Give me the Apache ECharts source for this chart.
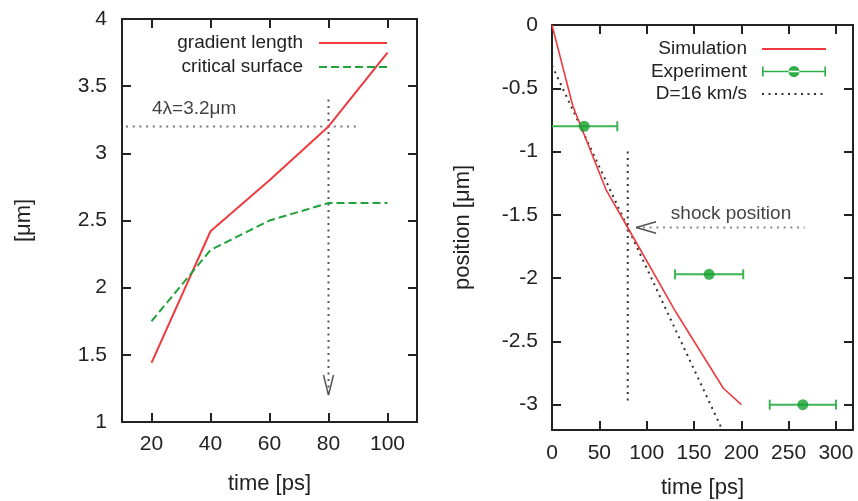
<!DOCTYPE html>
<html>
<head>
<meta charset="utf-8">
<script src="https://cdn.jsdelivr.net/npm/echarts@6/dist/echarts.min.js"></script>
<style>html,body{margin:0;padding:0;background:#fff}#c{width:858px;height:501px}</style>
</head>
<body>
<div id="c"></div>
<script>
// ---- Left panel data ----
const leftTime = [20, 40, 60, 80, 100];
const gradientLength = [1.44, 2.42, 2.8, 3.2, 3.75];
const criticalSurface = [1.75, 2.28, 2.5, 2.63, 2.63];
const leftXTicks = [20, 40, 60, 80, 100];
const leftYTicks = [1, 1.5, 2, 2.5, 3, 3.5, 4];
// annotation: 4λ threshold line and marker at 80 ps
const thresholdX = [0, 90];
const thresholdY = [3.2, 3.2];
const markerLeftX = [80, 80];
const markerLeftY = [3.4, 1.2];
const arrowLeftX = [78.3, 80, 81.7];
const arrowLeftY = [1.35, 1.2, 1.35];
const thresholdLabel = [20, 3.33];

// ---- Right panel data ----
const simTime = [0, 22, 57, 80, 131, 181, 200];
const simPos = [0, -0.64, -1.3, -1.6, -2.27, -2.87, -3.0];
const expTime = [34, 166, 265];
const expPos = [-0.8, -1.97, -3.0];
const expErr = [35, 36, 35];
const dTime = [0, 180];
const dPos = [-0.32, -3.2];
const rightXTicks = [0, 50, 100, 150, 200, 250, 300];
const rightYTicks = [-3, -2.5, -2, -1.5, -1, -0.5, 0];
const shockLineX = [89, 267];
const shockLineY = [-1.6, -1.6];
const shockArrowX = [110, 89, 110];
const shockArrowY = [-1.555, -1.6, -1.645];
const markerRightX = [80, 80];
const markerRightY = [-1.0, -3.0];
const shockLabel = [125, -1.49];

const zip = (a, b) => a.map((v, i) => [v, b[i]]);
const FONT = 'Liberation Sans, Arial, Helvetica, sans-serif';
const INK = '#222';
const RED = '#ef3b3f';
const GREEN = '#22a23a';

function axisBase(extra) {
  return Object.assign({
    axisLine: { show: true, onZero: false, lineStyle: { color: INK, width: 2 } },
    splitLine: { show: false },
    nameTextStyle: { fontFamily: FONT, fontSize: 22, color: INK },
  }, extra);
}
function ticks(values) {
  return { show: true, inside: true, length: 9, customValues: values, lineStyle: { color: INK, width: 2 } };
}
function labelStyle(margin, customValues) {
  return { show: true, fontFamily: FONT, fontSize: 21, color: INK, margin: margin, customValues: customValues };
}
const hiddenSymbol = { opacity: 0 };

const chart = echarts.init(document.getElementById('c'), null, { renderer: 'canvas' });

const option = {
  animation: false,
  backgroundColor: '#fff',
  grid: [
    { left: 122, top: 19, width: 295, height: 403, show: false, containLabel: false, outerBoundsMode: 'none' },
    { left: 552, top: 25, width: 301, height: 405, show: false, containLabel: false, outerBoundsMode: 'none' }
  ],
  xAxis: [
    axisBase({ gridIndex: 0, type: 'value', position: 'bottom', min: 10, max: 110,
      name: 'time [ps]', nameLocation: 'middle', nameGap: 51,
      axisTick: ticks(leftXTicks), axisLabel: labelStyle(12, leftXTicks) }),
    axisBase({ gridIndex: 0, type: 'value', position: 'top', min: 10, max: 110,
      axisTick: ticks(leftXTicks), axisLabel: { show: false } }),
    axisBase({ gridIndex: 1, type: 'value', position: 'bottom', min: 0, max: 318,
      name: 'time [ps]', nameLocation: 'middle', nameGap: 47,
      axisTick: ticks(rightXTicks), axisLabel: labelStyle(13, rightXTicks) }),
    axisBase({ gridIndex: 1, type: 'value', position: 'top', min: 0, max: 318,
      axisTick: ticks(rightXTicks), axisLabel: { show: false } })
  ],
  yAxis: [
    axisBase({ gridIndex: 0, type: 'value', position: 'left', min: 1, max: 4,
      name: '[μm]', nameLocation: 'middle', nameGap: 87,
      axisTick: ticks(leftYTicks), axisLabel: labelStyle(15, leftYTicks) }),
    axisBase({ gridIndex: 0, type: 'value', position: 'right', min: 1, max: 4,
      axisTick: ticks(leftYTicks), axisLabel: { show: false } }),
    axisBase({ gridIndex: 1, type: 'value', position: 'left', min: -3.2, max: 0,
      name: 'position [μm]', nameLocation: 'middle', nameGap: 78,
      axisTick: ticks(rightYTicks), axisLabel: labelStyle(14, rightYTicks) }),
    axisBase({ gridIndex: 1, type: 'value', position: 'right', min: -3.2, max: 0,
      axisTick: ticks(rightYTicks), axisLabel: { show: false } })
  ],
  legend: [
    {
      data: [
        { name: 'gradient length', itemStyle: hiddenSymbol },
        { name: 'critical surface', itemStyle: hiddenSymbol }
      ],
      orient: 'vertical', align: 'right', right: 470, top: 33, padding: 0,
      itemWidth: 68, itemHeight: 14, itemGap: 4,
      textStyle: { fontFamily: FONT, fontSize: 19, color: INK, lineHeight: 20, padding: [0, 11, 0, 0] },
      selectedMode: false
    },
    {
      data: [
        { name: 'Simulation', itemStyle: hiddenSymbol },
        { name: 'Experiment', icon: 'path://M0 6.2h64v1.6h-64z M0 2h1.6v10h-1.6z M62.4 2h1.6v10h-1.6z M26.5 7a5.5 5.5 0 1 0 11 0a5.5 5.5 0 1 0 -11 0z' },
        { name: 'D=16 km/s', itemStyle: hiddenSymbol }
      ],
      orient: 'vertical', align: 'right', right: 31, top: 39, padding: 0,
      itemWidth: 64, itemHeight: 14, itemGap: 2.5,
      textStyle: { fontFamily: FONT, fontSize: 19, color: INK, lineHeight: 20, padding: [0, 10, 0, 0] },
      selectedMode: false
    }
  ],
  series: [
    // ---- left panel ----
    { name: 'threshold', type: 'line', xAxisIndex: 0, yAxisIndex: 0, data: zip(thresholdX, thresholdY),
      symbol: 'none', clip: false, silent: true, z: 1,
      lineStyle: { color: '#777', width: 2, type: [2, 4.7] } },
    { name: 'marker80', type: 'line', xAxisIndex: 0, yAxisIndex: 0, data: zip(markerLeftX, markerLeftY),
      symbol: 'none', silent: true, z: 1,
      lineStyle: { color: '#555', width: 2, type: [2, 4.5] } },
    { name: 'arrowLeft', type: 'line', xAxisIndex: 0, yAxisIndex: 0, data: zip(arrowLeftX, arrowLeftY),
      symbol: 'none', silent: true, z: 1,
      lineStyle: { color: '#555', width: 1.5 } },
    { name: 'gradient length', type: 'line', xAxisIndex: 0, yAxisIndex: 0, data: zip(leftTime, gradientLength),
      symbol: 'none', z: 3, lineStyle: { color: RED, width: 2 }, itemStyle: { color: RED } },
    { name: 'critical surface', type: 'line', xAxisIndex: 0, yAxisIndex: 0, data: zip(leftTime, criticalSurface),
      symbol: 'none', z: 3, lineStyle: { color: GREEN, width: 2, type: [8, 4] }, itemStyle: { color: GREEN } },
    { name: 'thresholdText', type: 'scatter', xAxisIndex: 0, yAxisIndex: 0, data: [thresholdLabel],
      symbolSize: 1, itemStyle: { color: 'rgba(0,0,0,0)' }, silent: true,
      label: { show: true, position: 'right', distance: 0, formatter: '4λ=3.2μm',
        fontFamily: FONT, fontSize: 19, color: '#111' } },

    // ---- right panel ----
    { name: 'markerRight', type: 'line', xAxisIndex: 2, yAxisIndex: 2, data: zip(markerRightX, markerRightY),
      symbol: 'none', silent: true, z: 1,
      lineStyle: { color: '#333', width: 2, type: [2, 4.5] } },
    { name: 'shockLine', type: 'line', xAxisIndex: 2, yAxisIndex: 2, data: zip(shockLineX, shockLineY),
      symbol: 'none', silent: true, z: 1,
      lineStyle: { color: '#888', width: 2, type: [2, 4.7] } },
    { name: 'shockArrow', type: 'line', xAxisIndex: 2, yAxisIndex: 2, data: zip(shockArrowX, shockArrowY),
      symbol: 'none', silent: true, z: 1,
      lineStyle: { color: '#555', width: 1.5 } },
    { name: 'D=16 km/s', type: 'line', xAxisIndex: 2, yAxisIndex: 2, data: zip(dTime, dPos),
      symbol: 'none', z: 2, lineStyle: { color: '#333', width: 2, type: [2, 4.5] }, itemStyle: { color: '#333' } },
    { name: 'Simulation', type: 'line', xAxisIndex: 2, yAxisIndex: 2, data: zip(simTime, simPos),
      symbol: 'none', z: 3, lineStyle: { color: RED, width: 1.6 }, itemStyle: { color: RED } },
    { name: 'Experiment', type: 'custom', xAxisIndex: 2, yAxisIndex: 2, clip: true, z: 4,
      itemStyle: { color: '#2fae48' },
      data: expTime.map((t, i) => [t, expPos[i], expErr[i]]),
      encode: { x: 0, y: 1 },
      renderItem: function (params, api) {
        const t = api.value(0), p = api.value(1), e = api.value(2);
        const a = api.coord([t - e, p]);
        const b = api.coord([t + e, p]);
        const st = { stroke: '#3cb454', lineWidth: 2 };
        return { type: 'group', children: [
          { type: 'line', shape: { x1: a[0], y1: a[1], x2: b[0], y2: b[1] }, style: st },
          { type: 'line', shape: { x1: a[0], y1: a[1] - 5, x2: a[0], y2: a[1] + 5 }, style: st },
          { type: 'line', shape: { x1: b[0], y1: b[1] - 5, x2: b[0], y2: b[1] + 5 }, style: st }
        ] };
      } },
    { name: 'Experiment', type: 'scatter', xAxisIndex: 2, yAxisIndex: 2, data: zip(expTime, expPos),
      symbol: 'circle', symbolSize: 11, z: 5, itemStyle: { color: '#14a02f' } },
    { name: 'shockText', type: 'scatter', xAxisIndex: 2, yAxisIndex: 2, data: [shockLabel],
      symbolSize: 1, itemStyle: { color: 'rgba(0,0,0,0)' }, silent: true,
      label: { show: true, position: 'right', distance: 0, formatter: 'shock position',
        fontFamily: FONT, fontSize: 19, color: '#111' } }
  ]
};
chart.setOption(option);
</script>
</body>
</html>
